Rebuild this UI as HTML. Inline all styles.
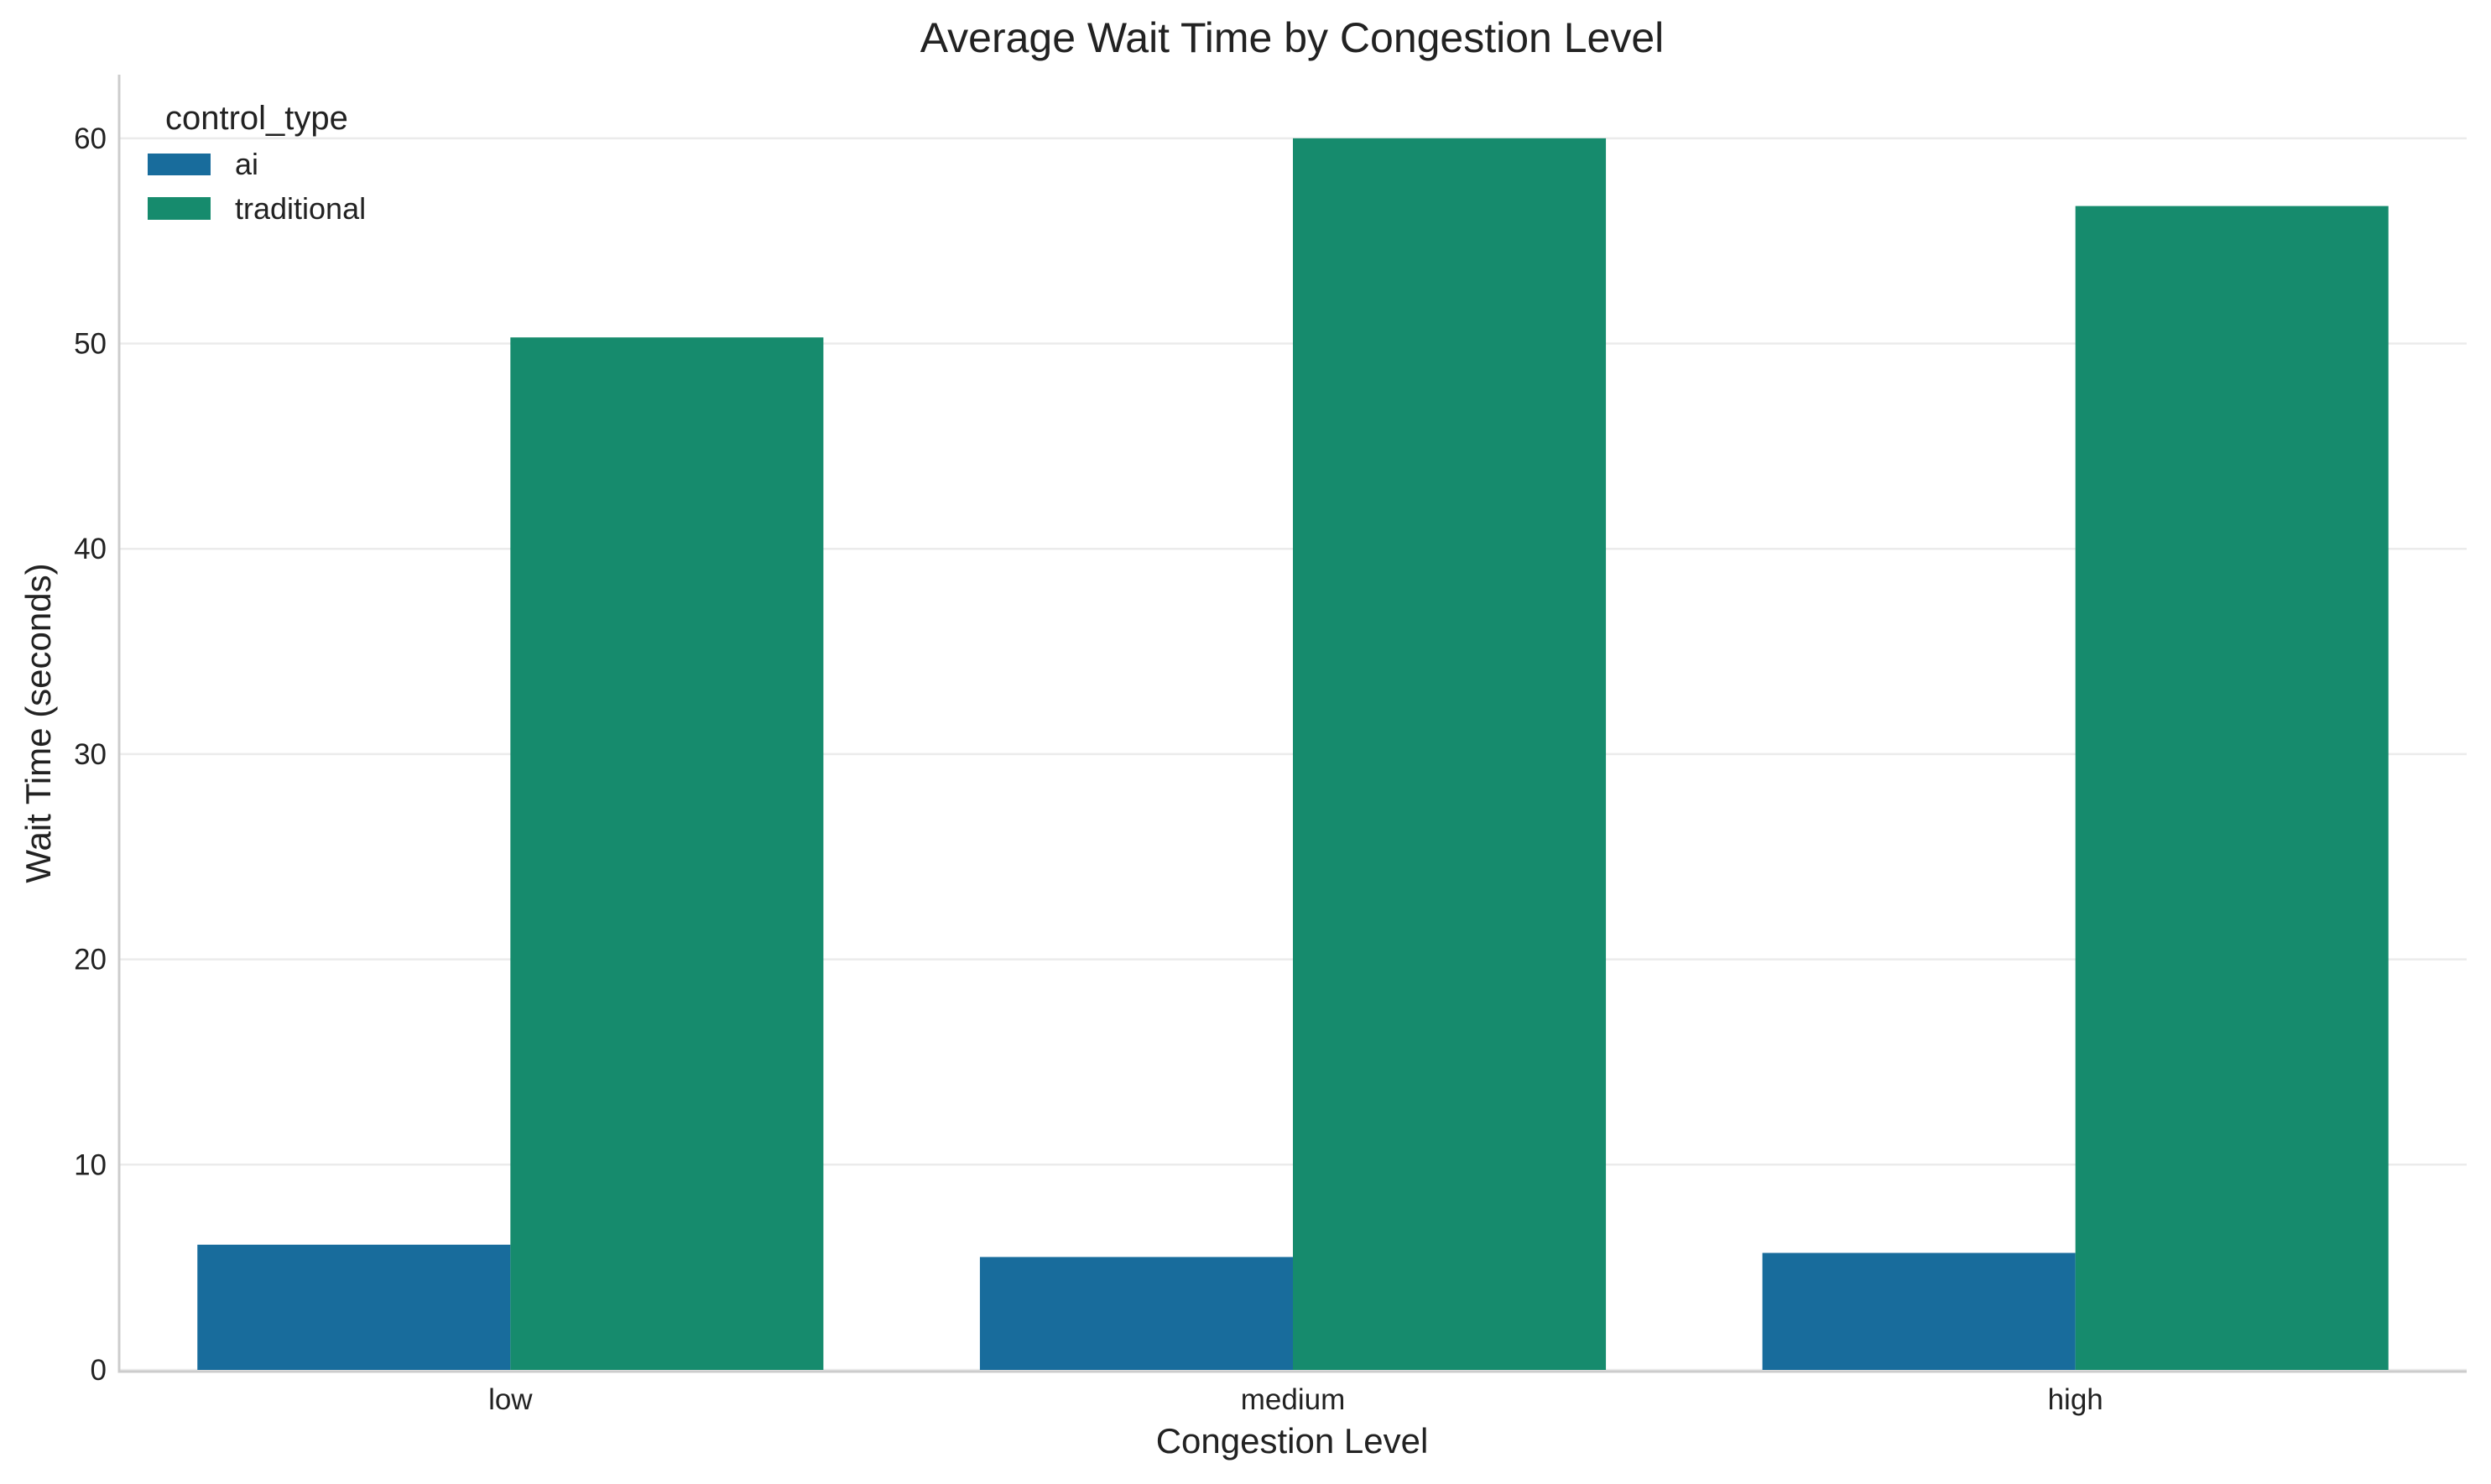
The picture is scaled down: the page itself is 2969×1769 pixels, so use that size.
<!DOCTYPE html>
<html><head><meta charset="utf-8"><style>
html,body{margin:0;padding:0;background:#fff;}
svg{display:block;font-family:"Liberation Sans",Arial,sans-serif;}
</style></head><body>
<svg id="chart" width="2969" height="1769" viewBox="0 0 2969 1769">
<text x="1540" y="62" font-size="50" text-anchor="middle" fill="#222">Average Wait Time by Congestion Level</text>
<g id="grid"></g>
<g id="bars"></g>
<g id="axes"></g>
<text x="1540" y="1732" font-size="42" text-anchor="middle" fill="#222">Congestion Level</text>
<text transform="translate(60,862) rotate(-90)" font-size="42" text-anchor="middle" fill="#222">Wait Time (seconds)</text>
<g>
<text x="197" y="154" font-size="40" fill="#222">control_type</text>
<g>
<rect x="176" y="183" width="75" height="26" fill="#186c9c"/>
<text x="280" y="208" font-size="36" fill="#222">ai</text>
</g>
<g>
<rect x="176" y="235" width="75" height="27" fill="#168b6d"/>
<text x="280" y="261" font-size="36" fill="#222">traditional</text>
</g>
</g>
</svg>
<script>
const categories = ["low", "medium", "high"];
const aiValues = [6.1, 5.5, 5.7];
const traditionalValues = [50.3, 60.0, 56.7];
const yTicks = [0, 10, 20, 30, 40, 50, 60];

const NS = "http://www.w3.org/2000/svg";
const plotLeft = 142, plotRight = 2940, plotTop = 89, plotBottom = 1633, yMax = 63.1;
const step = (plotRight - plotLeft) / categories.length;
function xCenter(i){ return plotLeft + step * (i + 0.5); }
function yScale(v){ return plotBottom - v / yMax * (plotBottom - plotTop); }
const barW = step * 0.4;

function mk(tag, attrs, parent){
  const el = document.createElementNS(NS, tag);
  for (const k in attrs) el.setAttribute(k, attrs[k]);
  parent.appendChild(el);
  return el;
}
const grid = document.getElementById('grid');
const bars = document.getElementById('bars');
const axes = document.getElementById('axes');

yTicks.forEach(t => {
  const ln = mk('line', {x1:plotLeft, x2:plotRight, y1:yScale(t), y2:yScale(t), stroke:'#ebebeb', 'stroke-width':2.5}, grid);
  
  
  const tx = mk('text', {x:127, y:yScale(t)+12, 'font-size':35, 'text-anchor':'end', fill:'#222'}, axes);
  tx.textContent = t;
  
  
});

categories.forEach((c, i) => {
  const cx = xCenter(i);
  const a = mk('rect', {x:cx - barW, y:yScale(aiValues[i]), width:barW, height:plotBottom - yScale(aiValues[i]), fill:'#186c9c'}, bars);
  
  
  const t = mk('rect', {x:cx, y:yScale(traditionalValues[i]), width:barW, height:plotBottom - yScale(traditionalValues[i]), fill:'#168b6d'}, bars);
  
  
  const lb = mk('text', {x:cx, y:1680, 'font-size':35, 'text-anchor':'middle', fill:'#222'}, axes);
  lb.textContent = c;
  
  
});

const ya = mk('line', {x1:plotLeft, x2:plotLeft, y1:plotTop, y2:plotBottom+2, stroke:'#cccccc', 'stroke-width':3}, axes);


const xa = mk('line', {x1:plotLeft-1.5, x2:plotRight, y1:plotBottom+2, y2:plotBottom+2, stroke:'#cccccc', 'stroke-width':3}, axes);


</script>
</body></html>
